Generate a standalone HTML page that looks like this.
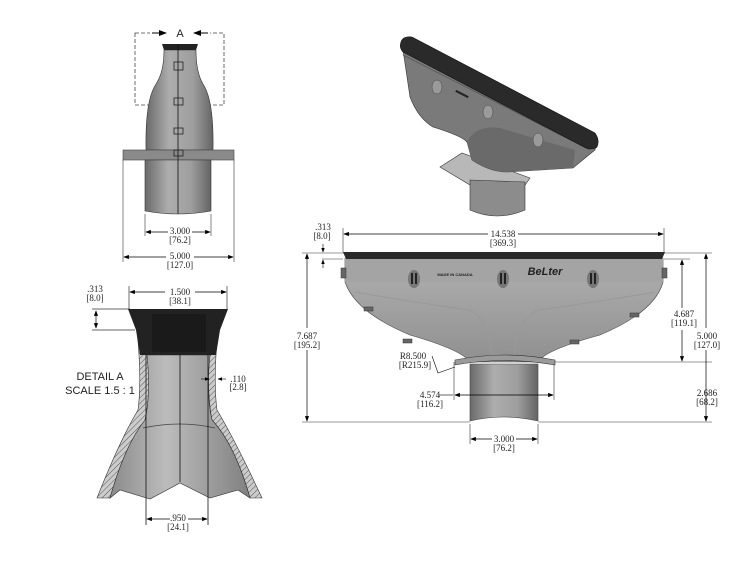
<!DOCTYPE html>
<html><head><meta charset="utf-8"><style>
html,body{margin:0;padding:0;background:#fff;}
svg{display:block;}
text{font-family:"Liberation Sans",sans-serif;fill:#222;}
.d{font-size:9px;text-anchor:middle;font-family:"Liberation Serif",serif;}
</style></head><body>
<svg width="740" height="565" viewBox="0 0 740 565" xmlns="http://www.w3.org/2000/svg">
<defs>
<linearGradient id="g1" x1="0" x2="1"><stop offset="0" stop-color="#6a6a6a"/><stop offset="0.35" stop-color="#adadad"/><stop offset="0.7" stop-color="#9e9e9e"/><stop offset="1" stop-color="#646464"/></linearGradient>
<linearGradient id="g2" x1="0" y1="0" x2="0" y2="1"><stop offset="0" stop-color="#b0b0b0"/><stop offset="1" stop-color="#909090"/></linearGradient>
<linearGradient id="g3" x1="0" x2="1"><stop offset="0" stop-color="#8a8a8a"/><stop offset="0.4" stop-color="#bcbcbc"/><stop offset="1" stop-color="#808080"/></linearGradient>
<pattern id="h" width="4" height="4" patternUnits="userSpaceOnUse" patternTransform="rotate(45)"><rect width="4" height="4" fill="#ccc"/><line x1="0" y1="0" x2="0" y2="4" stroke="#555" stroke-width="1"/></pattern>
<marker id="a" markerWidth="8" markerHeight="6" refX="7" refY="3" orient="auto-start-reverse"><path d="M0,0 L8,3 L0,6z" fill="#000"/></marker>
</defs>

<!-- TOP LEFT VIEW -->
<rect x="135" y="33" width="89" height="72" fill="none" stroke="#444" stroke-dasharray="4,2" stroke-width="0.8"/>
<rect x="150" y="28" width="60" height="12" fill="#fff"/>
<line x1="152" y1="33" x2="166" y2="33" stroke="#000" marker-end="url(#a)"/>
<line x1="208" y1="33" x2="194" y2="33" stroke="#000" marker-end="url(#a)"/>
<text x="180" y="37" font-size="11" text-anchor="middle">A</text>
<path d="M164,50 L196,50 Q196,72 203,84 Q214,100 213,150 L146,150 Q145,100 156,84 Q164,72 164,50z" fill="url(#g1)" stroke="#333" stroke-width="0.6"/>
<path d="M162,44 L198,44 L196,50 L164,50z" fill="#222"/>
<rect x="123" y="150" width="111" height="10" fill="#8a8a8a" stroke="#444" stroke-width="0.6"/>
<path d="M145,160 L211,160 L211,211 Q178,217 145,211z" fill="url(#g1)" stroke="#333" stroke-width="0.6"/>
<line x1="178" y1="44" x2="178" y2="214" stroke="#111" stroke-width="0.8"/>
<g fill="none" stroke="#222" stroke-width="0.8"><rect x="174" y="62" width="9" height="8"/><rect x="174" y="98" width="9" height="7"/><rect x="174" y="128" width="9" height="6"/><rect x="174" y="150" width="9" height="6"/></g>
<g stroke="#333" stroke-width="0.6"><line x1="145" y1="214" x2="145" y2="236"/><line x1="211" y1="214" x2="211" y2="236"/><line x1="123" y1="160" x2="123" y2="262"/><line x1="234" y1="160" x2="234" y2="262"/></g>
<line x1="146" y1="232" x2="168" y2="232" stroke="#000" stroke-width="0.7" marker-start="url(#a)"/><line x1="192" y1="232" x2="210" y2="232" stroke="#000" stroke-width="0.7" marker-end="url(#a)"/>
<text class="d" x="180" y="234">3.000</text><text class="d" x="180" y="243">[76.2]</text>
<line x1="124" y1="257" x2="166" y2="257" stroke="#000" stroke-width="0.7" marker-start="url(#a)"/><line x1="194" y1="257" x2="233" y2="257" stroke="#000" stroke-width="0.7" marker-end="url(#a)"/>
<text class="d" x="180" y="259">5.000</text><text class="d" x="180" y="268">[127.0]</text>

<!-- DETAIL A -->
<text class="d" x="95" y="292">.313</text><text class="d" x="95" y="301">[8.0]</text>
<g stroke="#333" stroke-width="0.7"><line x1="129" y1="286" x2="129" y2="309"/><line x1="227" y1="286" x2="227" y2="309"/><line x1="92" y1="309" x2="130" y2="309"/><line x1="92" y1="330" x2="135" y2="330"/></g>
<line x1="96" y1="311" x2="96" y2="328" stroke="#000" stroke-width="0.7" marker-start="url(#a)" marker-end="url(#a)"/>
<line x1="130" y1="292" x2="165" y2="292" stroke="#000" stroke-width="0.7" marker-start="url(#a)"/><line x1="195" y1="292" x2="226" y2="292" stroke="#000" stroke-width="0.7" marker-end="url(#a)"/>
<text class="d" x="180" y="295">1.500</text><text class="d" x="180" y="304">[38.1]</text>
<path d="M137,330 Q142,380 138,410 Q120,440 97,498 L110,498 Q125,445 145,420 Q152,390 147,330z" fill="url(#h)" stroke="#333" stroke-width="0.6"/>
<path d="M218,330 Q213,380 217,410 Q235,440 262,498 L250,498 Q235,445 212,420 Q206,390 210,330z" fill="url(#h)" stroke="#333" stroke-width="0.6"/>
<path d="M147,355 L210,355 Q206,395 212,420 Q235,445 250,498 L238,490 L210,498 L180,483 L150,499 L120,490 L110,498 Q125,445 145,420 Q151,395 147,355z" fill="url(#g3)" stroke="#333" stroke-width="0.6"/>
<path d="M143,428 Q180,420 215,428" fill="none" stroke="#444" stroke-width="0.7"/>
<path d="M128,309 L228,309 L220,330 L216,355 L140,355 L136,330z" fill="#222"/>
<rect x="152" y="314" width="54" height="38" fill="#1a1a1a"/>
<g stroke="#111" stroke-width="0.8"><line x1="146" y1="355" x2="146" y2="525"/><line x1="208" y1="355" x2="208" y2="525"/><line x1="180" y1="355" x2="180" y2="482"/></g>
<text x="100" y="380" font-size="11" text-anchor="middle">DETAIL  A</text>
<text x="100" y="394" font-size="11" text-anchor="middle">SCALE 1.5 : 1</text>
<line x1="201" y1="379" x2="209" y2="379" stroke="#000" stroke-width="0.6" marker-end="url(#a)"/><line x1="226" y1="379" x2="218" y2="379" stroke="#000" stroke-width="0.6" marker-end="url(#a)"/>
<text class="d" x="238" y="382">.110</text><text class="d" x="238" y="390">[2.8]</text>
<line x1="147" y1="519" x2="170" y2="519" stroke="#000" stroke-width="0.7" marker-start="url(#a)"/><line x1="188" y1="519" x2="207" y2="519" stroke="#000" stroke-width="0.7" marker-end="url(#a)"/>
<text class="d" x="178" y="521">.950</text><text class="d" x="178" y="530">[24.1]</text>

<!-- 3D VIEW -->
<path d="M440,167 L462,153 L530,178 L523,188 L490,197 Z" fill="#b8b8b8" stroke="#333" stroke-width="0.6"/>
<path d="M470,180 L525,182 L525,210 Q497,222 470,210 Z" fill="#8c8c8c" stroke="#333" stroke-width="0.6"/>
<path d="M403,50 L410,97 Q418,118 433,127 Q462,136 467,142 L472,160 Q490,172 507,172 L573,168 L595,150 L597,140 Z" fill="#7a7a7a" stroke="#333" stroke-width="0.6"/>
<path d="M467,142 Q475,125 500,128 Q540,140 575,150 L573,168 L507,172 Q490,172 472,160 Z" fill="#6a6a6a"/>
<path d="M403,55 L590,150" stroke="#555" stroke-width="0.8"/>
<path d="M401,42 Q403,36 412,37 L595,133 Q600,140 597,147 Q593,150 586,148 L403,52 Q399,48 401,42Z" fill="#2a2a2a" stroke="#111" stroke-width="0.6"/>
<ellipse cx="437" cy="87" rx="5" ry="7" fill="#9a9a9a" stroke="#444" stroke-width="0.5"/>
<ellipse cx="488" cy="112" rx="5" ry="7" fill="#9a9a9a" stroke="#444" stroke-width="0.5"/>
<ellipse cx="538" cy="140" rx="5" ry="7" fill="#9a9a9a" stroke="#444" stroke-width="0.5"/>
<rect x="455" y="93" width="14" height="2" fill="#222" transform="rotate(27 462 94)"/>

<!-- FRONT VIEW -->
<g stroke="#333" stroke-width="0.6"><line x1="343" y1="228" x2="343" y2="252"/><line x1="664" y1="228" x2="664" y2="252"/>
<line x1="302" y1="253" x2="712" y2="253"/><line x1="322" y1="259" x2="343" y2="259"/><line x1="664" y1="259" x2="690" y2="259"/>
<line x1="555" y1="362" x2="712" y2="362"/><line x1="302" y1="422" x2="470" y2="422"/><line x1="538" y1="422" x2="712" y2="422"/>
<line x1="454" y1="362" x2="454" y2="400"/><line x1="554" y1="362" x2="554" y2="400"/><line x1="470" y1="424" x2="470" y2="444"/><line x1="538" y1="424" x2="538" y2="444"/></g>
<text class="d" x="323" y="230">.313</text><text class="d" x="322" y="239">[8.0]</text>
<line x1="323" y1="244" x2="323" y2="252" stroke="#000" stroke-width="0.6" marker-end="url(#a)"/><line x1="323" y1="268" x2="323" y2="260" stroke="#000" stroke-width="0.6" marker-end="url(#a)"/>
<line x1="344" y1="234" x2="488" y2="234" stroke="#000" stroke-width="0.7" marker-start="url(#a)"/><line x1="518" y1="234" x2="663" y2="234" stroke="#000" stroke-width="0.7" marker-end="url(#a)"/>
<text class="d" x="503" y="237">14.538</text><text class="d" x="503" y="246">[369.3]</text>
<path d="M345,258 L663,258 L663,282 Q655,312 600,335 Q545,350 538,362 L470,362 Q462,350 410,335 Q355,312 345,282z" fill="url(#g2)" stroke="#444" stroke-width="0.6"/>
<rect x="345" y="258" width="318" height="24" fill="#a4a4a4"/>
<path d="M355,292 Q400,300 470,310 Q490,320 492,362 M655,292 Q610,300 538,310 Q516,320 514,362" fill="none" stroke="#999" stroke-width="1"/>
<path d="M343,252 L665,252 L662,259 L346,259z" fill="#2a2a2a"/>
<path d="M455,360 Q505,350 555,360 L555,365 Q505,356 455,365z" fill="#9a9a9a" stroke="#333" stroke-width="0.6"/>
<path d="M470,364 L538,364 L538,421 Q504,413 470,421z" fill="url(#g1)" stroke="#444" stroke-width="0.6"/>
<g fill="#777"><ellipse cx="414" cy="279" rx="6" ry="9"/><ellipse cx="503" cy="279" rx="6" ry="9"/><ellipse cx="593" cy="279" rx="6" ry="9"/></g>
<g fill="#222"><rect x="411" y="273" width="2" height="11"/><rect x="415" y="273" width="2" height="11"/><rect x="500" y="273" width="2" height="11"/><rect x="504" y="273" width="2" height="11"/><rect x="590" y="273" width="2" height="11"/><rect x="594" y="273" width="2" height="11"/></g>
<text x="455" y="276" font-size="4" text-anchor="middle" font-weight="bold">MADE IN CANADA</text>
<text x="545" y="275" font-size="11" font-weight="bold" font-style="italic" text-anchor="middle" fill="#333">BeLter</text>
<g fill="#666" stroke="#333" stroke-width="0.5"><rect x="341" y="268" width="5" height="10"/><rect x="662" y="268" width="5" height="10"/><rect x="364" y="307" width="9" height="4"/><rect x="630" y="313" width="9" height="4"/><rect x="403" y="339" width="9" height="4"/><rect x="570" y="340" width="9" height="4"/></g>
<line x1="307" y1="254" x2="307" y2="328" stroke="#000" stroke-width="0.7" marker-start="url(#a)"/><line x1="307" y1="350" x2="307" y2="421" stroke="#000" stroke-width="0.7" marker-end="url(#a)"/>
<text class="d" x="307" y="339">7.687</text><text class="d" x="307" y="348">[195.2]</text>
<line x1="682" y1="260" x2="682" y2="308" stroke="#000" stroke-width="0.7" marker-start="url(#a)"/><line x1="682" y1="330" x2="682" y2="361" stroke="#000" stroke-width="0.7" marker-end="url(#a)"/>
<text class="d" x="684" y="317">4.687</text><text class="d" x="684" y="326">[119.1]</text>
<line x1="706" y1="254" x2="706" y2="328" stroke="#000" stroke-width="0.7" marker-start="url(#a)"/><line x1="706" y1="350" x2="706" y2="421" stroke="#000" stroke-width="0.7" marker-end="url(#a)"/>
<text class="d" x="707" y="339">5.000</text><text class="d" x="707" y="348">[127.0]</text>
<text class="d" x="707" y="396">2.686</text><text class="d" x="707" y="405">[68.2]</text>
<text class="d" x="413" y="359">R8.500</text><text class="d" x="415" y="368">[R215.9]</text>
<path d="M432,356 L438,373 L455,367" fill="none" stroke="#000" stroke-width="0.6"/>
<line x1="439" y1="395" x2="453" y2="395" stroke="#000" stroke-width="0.6"/>
<line x1="455" y1="395" x2="553" y2="395" stroke="#000" stroke-width="0.7" marker-start="url(#a)" marker-end="url(#a)"/>
<text class="d" x="430" y="398">4.574</text><text class="d" x="430" y="407">[116.2]</text>
<line x1="471" y1="439" x2="492" y2="439" stroke="#000" stroke-width="0.7" marker-start="url(#a)"/><line x1="516" y1="439" x2="537" y2="439" stroke="#000" stroke-width="0.7" marker-end="url(#a)"/>
<text class="d" x="504" y="442">3.000</text><text class="d" x="504" y="451">[76.2]</text>
</svg>
</body></html>
